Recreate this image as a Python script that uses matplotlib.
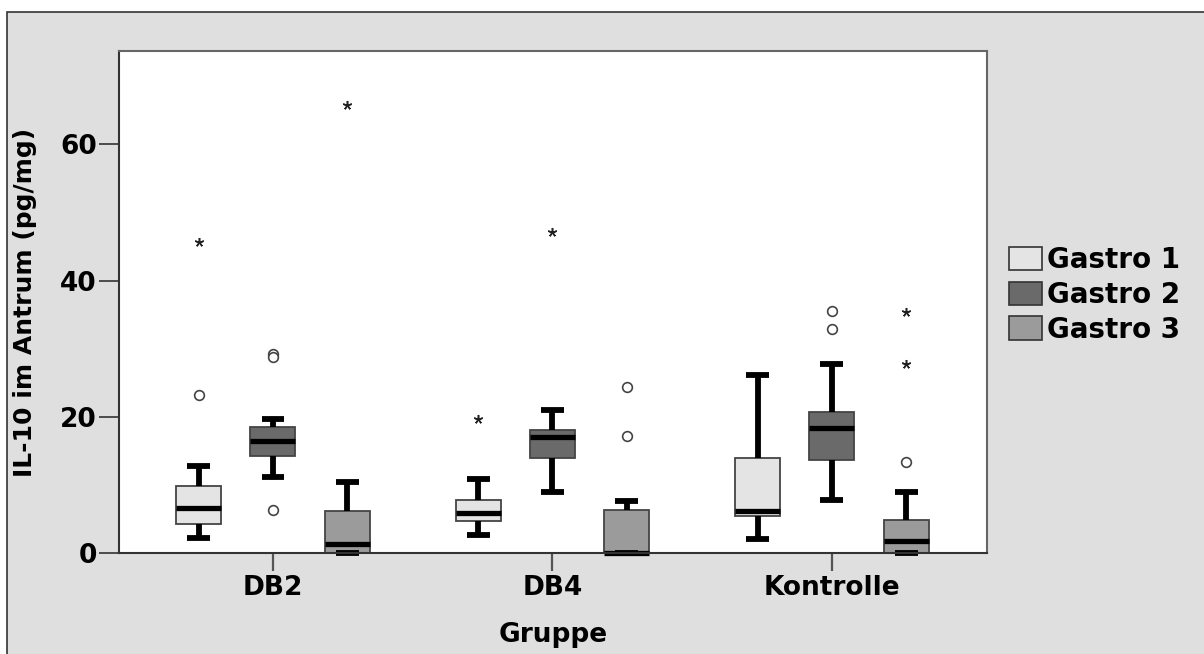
import numpy as np
import matplotlib
matplotlib.use("Agg")
import matplotlib.pyplot as plt
from matplotlib.patches import Patch, Rectangle

groups = ["DB2", "DB4", "Kontrolle"]
series = ["Gastro 1", "Gastro 2", "Gastro 3"]
colors = ["#e4e4e4", "#6a6a6a", "#9b9b9b"]

# box statistics per series, one value per group (DB2, DB4, Kontrolle)
q1 = [[4.2, 4.7, 5.5], [14.3, 14.0, 13.6], [0.0, 0.0, 0.0]]
median = [[6.6, 5.9, 6.2], [16.5, 17.0, 18.4], [1.3, 0.0, 1.8]]
q3 = [[9.9, 7.8, 14.0], [18.5, 18.0, 20.7], [6.2, 6.3, 4.9]]
whisk_lo = [[2.2, 2.6, 2.1], [11.2, 8.9, 7.8], [0.0, 0.0, 0.0]]
whisk_hi = [[12.8, 10.9, 26.2], [19.7, 21.0, 27.8], [10.4, 7.7, 9.0]]

# outliers (circles) and extreme values (stars)
outliers = [
    [[23.2], [], []],
    [[29.2, 28.8, 6.3], [], [35.5, 32.9]],
    [[], [24.3, 17.2], [13.3]],
]
extremes = [
    [[45.6], [19.7], []],
    [[], [47.1], []],
    [[65.7], [], [35.4, 27.8]],
]

offsets = [-0.266, 0.0, 0.266]
box_w = 0.161
bg = "#dfdfdf"

fig = plt.figure(figsize=(12.04, 6.54), dpi=100)
fig.patch.set_facecolor("white")
fig.patches.append(Rectangle((7 / 1204, -0.05), 1.1, 1.05 - 12 / 654,
                             transform=fig.transFigure, facecolor=bg,
                             edgecolor="#333333", linewidth=1.2, zorder=-10))

ax = fig.add_axes([119 / 1204, 101 / 654, 868 / 1204, 502 / 654])
ax.set_facecolor("white")

for j in range(3):
    pos = np.arange(3) + offsets[j]
    stats = []
    for i in range(3):
        stats.append(dict(med=median[j][i], q1=q1[j][i], q3=q3[j][i],
                          whislo=whisk_lo[j][i], whishi=whisk_hi[j][i], fliers=[]))
    art = ax.bxp(stats, positions=pos, widths=box_w, capwidths=0.082,
                 patch_artist=True, showfliers=False,
                 boxprops=dict(facecolor=colors[j], edgecolor="#444444", linewidth=1.3),
                 medianprops=dict(color="black", linewidth=3.8, solid_capstyle="butt"),
                 whiskerprops=dict(color="black", linewidth=4.2, solid_capstyle="butt"),
                 capprops=dict(color="black", linewidth=4.2, solid_capstyle="butt"))
    for key in ["boxes", "medians", "whiskers", "caps"]:
        for a in art[key]:
            a.set_clip_on(False)
    for i in range(3):
        if outliers[j][i]:
            ax.plot([pos[i]] * len(outliers[j][i]), outliers[j][i], "o", ms=7,
                    mfc="white", mec="#444444", mew=1.2, zorder=5)
        if extremes[j][i]:
            ax.plot([pos[i]] * len(extremes[j][i]), extremes[j][i], ls="none",
                    marker=(5, 2, 0), ms=6.5, mew=1.1, color="#222222", zorder=5)

ax.set_xlim(-0.551, 2.555)
ax.set_ylim(0, 73.7)
ax.set_xticks(range(3))
ax.set_xticklabels(groups)
ax.set_yticks([0, 20, 40, 60])

for side in ["top", "right"]:
    ax.spines[side].set_color("#666666")
    ax.spines[side].set_linewidth(1.5)
for side in ["left", "bottom"]:
    ax.spines[side].set_color("#333333")
    ax.spines[side].set_linewidth(1.5)

ax.tick_params(axis="y", direction="out", length=14.5, width=1.2, color="#333333", pad=1.5)
ax.tick_params(axis="x", direction="out", length=13, width=1.6, color="#555555", pad=3)
for lab in ax.get_xticklabels() + ax.get_yticklabels():
    lab.set_fontfamily("DejaVu Sans")
    lab.set_fontweight("bold")
    lab.set_fontsize(19)

ax.set_xlabel("Gruppe", fontfamily="DejaVu Sans", fontweight="bold", fontsize=19)
ax.xaxis.set_label_coords(0.5, -0.138)
ax.set_ylabel("IL-10 im Antrum (pg/mg)", fontfamily="DejaVu Sans",
              fontweight="bold", fontsize=18)
ax.yaxis.set_label_coords(-0.095, 0.5)

handles = [Patch(facecolor=c, edgecolor="#333333", linewidth=1.2) for c in colors]
fig.legend(handles, series, loc="upper left", bbox_to_anchor=(1009 / 1204, 1 - 246 / 654),
           frameon=False, borderpad=0, borderaxespad=0, handlelength=1.19,
           handleheight=0.94, handletextpad=0.18, labelspacing=0.25,
           prop=dict(family="DejaVu Sans", weight="bold", size=20))

fig.savefig("out.png", dpi=100)
